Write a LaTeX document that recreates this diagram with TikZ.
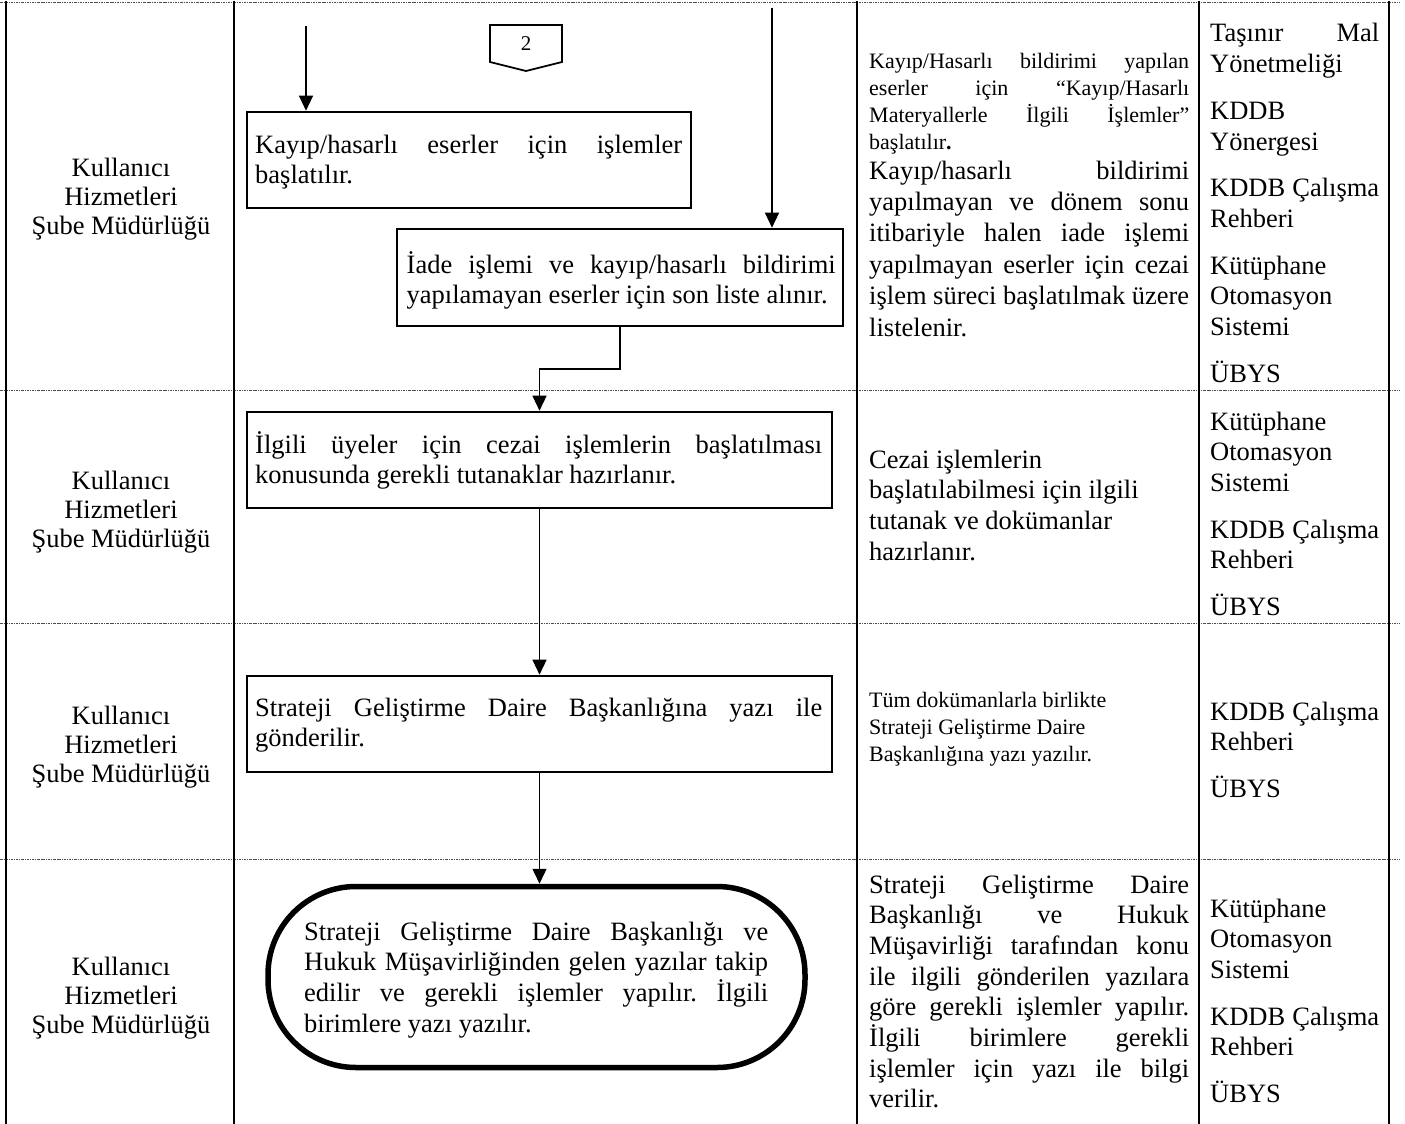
\documentclass[tikz,border=0pt]{standalone}
\usepackage{fontspec}
\setmainfont{Liberation Serif}
\usetikzlibrary{arrows.meta}
\newcommand\fbig{\fontsize{26.5pt}{30.7pt}\selectfont}
\newcommand\fsml{\fontsize{22pt}{27.3pt}\selectfont}
\newcommand\fone{\fontsize{21pt}{24pt}\selectfont}
\newcommand\J[2]{{\frenchspacing\spaceskip=0pt\xspaceskip=0pt\makebox[#1][s]{#2}}}
\newcommand\N[1]{{\frenchspacing\spaceskip=0pt\xspaceskip=0pt\mbox{#1}}}
\begin{document}
\begin{tikzpicture}[x=1pt,y=-1pt,
  vline/.style={line width=2pt},
  lane/.style={line width=0.9pt, gray!60!black, dash pattern=on 2.5pt off 1pt on 0.8pt off 1pt},
  box/.style={draw, line width=2.6pt, rectangle, inner sep=0pt, minimum height=96pt},
  term/.style={draw, line width=5.5pt, rectangle, rounded corners=88pt, inner sep=0pt},
  arr/.style={line width=1.3pt, -{Triangle[length=15pt,width=14pt]}},
  txt/.style={anchor=base west, inner sep=0pt, align=left, font=\fbig},
  stxt/.style={txt, font=\fsml},
  lbl/.style={anchor=center, inner sep=0pt, align=center, font=\fontsize{26.5pt}{28.8pt}\selectfont},
]
\useasboundingbox (0,0) rectangle (1405,1124);
\fill[white] (0,0) rectangle (1405,1124);

% swimlane separators and columns
\foreach \yy in {2,390,623,859} \draw[lane] (0,\yy) -- (1400,\yy);
\foreach \xx in {6,234,857,1199,1389} \draw[vline] (\xx,1) -- (\xx,1124);

% left column labels
\node[lbl] (L1) at (121,199) {Kullanıcı\\Hizmetleri\\\N{Şube Müdürlüğü}};
\node[lbl] (L2) at (121,512) {Kullanıcı\\Hizmetleri\\\N{Şube Müdürlüğü}};
\node[lbl] (L3) at (121,747) {Kullanıcı\\Hizmetleri\\\N{Şube Müdürlüğü}};
\node[lbl] (L4) at (121,998) {Kullanıcı\\Hizmetleri\\\N{Şube Müdürlüğü}};

% process boxes
\node[box, minimum width=444pt] (A) at (469,160) {};
\node[box, minimum width=446pt, minimum height=97pt] (B) at (620,277.5) {};
\node[box, minimum width=585pt] (C) at (539.5,460) {};
\node[box, minimum width=585pt] (D) at (539.5,724) {};
\node[term, minimum width=537pt, minimum height=181pt] (T) at (536.5,977) {};

\node[txt, text width=427pt] (At) at (255,153) {\J{427pt}{Kayıp/hasarlı eserler için işlemler}\\başlatılır.};
\node[txt, text width=429pt] (Bt) at (406.5,273) {\J{429pt}{İade işlemi ve kayıp/hasarlı bildirimi}\\\N{yapılamayan eserler için son liste alınır.}};
\node[txt, text width=567pt] (Ct) at (255,453) {\J{567pt}{İlgili üyeler için cezai işlemlerin başlatılması}\\\N{konusunda gerekli tutanaklar hazırlanır.}};
\node[txt, text width=567pt] (Dt) at (255,716) {\J{567pt}{Strateji Geliştirme Daire Başkanlığına yazı ile}\\gönderilir.};
\node[txt, text width=464pt] (Tt) at (304,940) {\J{464pt}{Strateji Geliştirme Daire Başkanlığı ve}\\\J{464pt}{Hukuk Müşavirliğinden gelen yazılar takip}\\\J{464pt}{edilir ve gerekli işlemler yapılır. İlgili}\\\N{birimlere yazı yazılır.}};

% off-page connector
\draw[line width=1.8pt] (490,25) -- (562,25) -- (562,62) -- (526,71) -- (490,62) -- cycle;
\node[font=\fone, inner sep=0pt] (c2) at (526,44) {2};

% connectors
\coordinate (sA) at (306,26);
\coordinate (sB) at (772,8);
\coordinate (bc) at (620,369);
\draw[arr] (sA) -- (sA |- A.north);
\draw[arr] (sB) -- (sB |- B.north);
\draw[arr] (bc |- B.south) -- (bc) -| (C.north);
\draw[arr] (C.south) -- (D.north);
\draw[arr] (D.south) -- (D.south |- T.north);

% column 3 texts
\node[stxt, text width=320pt] (r1a) at (869,68) {\J{320pt}{Kayıp/Hasarlı bildirimi yapılan}\\\J{320pt}{eserler için “Kayıp/Hasarlı}\\\J{320pt}{Materyallerle İlgili İşlemler”}\\başlatılır\textbf{.}};
\node[txt, text width=320pt, font=\fontsize{26.5pt}{31.4pt}\selectfont] (r1b) at (869,179) {\J{320pt}{Kayıp/hasarlı bildirimi}\\\J{320pt}{yapılmayan ve dönem sonu}\\\J{320pt}{itibariyle halen iade işlemi}\\\J{320pt}{yapılmayan eserler için cezai}\\\J{320pt}{işlem süreci başlatılmak üzere}\\listelenir.};
\node[txt, text width=320pt] (r2) at (869,468) {\N{Cezai işlemlerin}\\\N{başlatılabilmesi için ilgili}\\\N{tutanak ve dokümanlar}\\hazırlanır.};
\node[stxt, text width=320pt, font=\fontsize{22pt}{27pt}\selectfont] (r3) at (869,707) {\N{Tüm dokümanlarla birlikte}\\\N{Strateji Geliştirme Daire}\\\N{Başkanlığına yazı yazılır.}};
\node[txt, text width=320pt] (r4) at (869,893) {\J{320pt}{Strateji Geliştirme Daire}\\\J{320pt}{Başkanlığı ve Hukuk}\\\J{320pt}{Müşavirliği tarafından konu}\\\J{320pt}{ile ilgili gönderilen yazılara}\\\J{320pt}{göre gerekli işlemler yapılır.}\\\J{320pt}{İlgili birimlere gerekli}\\\J{320pt}{işlemler için yazı ile bilgi}\\verilir.};

% column 4 texts
\node[txt, text width=169pt] (d1) at (1210,42) {\J{169pt}{Taşınır Mal}\\Yönetmeliği\\[16pt]KDDB\\Yönergesi\\[16pt]\J{169pt}{KDDB Çalışma}\\Rehberi\\[16pt]Kütüphane\\Otomasyon\\Sistemi\\[16pt]ÜBYS};
\node[txt, text width=169pt] (d2) at (1210,430) {Kütüphane\\Otomasyon\\Sistemi\\[16pt]\J{169pt}{KDDB Çalışma}\\Rehberi\\[16pt]ÜBYS};
\node[txt, text width=169pt] (d3) at (1210,720) {\J{169pt}{KDDB Çalışma}\\Rehberi\\[16pt]ÜBYS};
\node[txt, text width=169pt] (d4) at (1210,917) {Kütüphane\\Otomasyon\\Sistemi\\[16pt]\J{169pt}{KDDB Çalışma}\\Rehberi\\[16pt]ÜBYS};
\end{tikzpicture}
\end{document}
